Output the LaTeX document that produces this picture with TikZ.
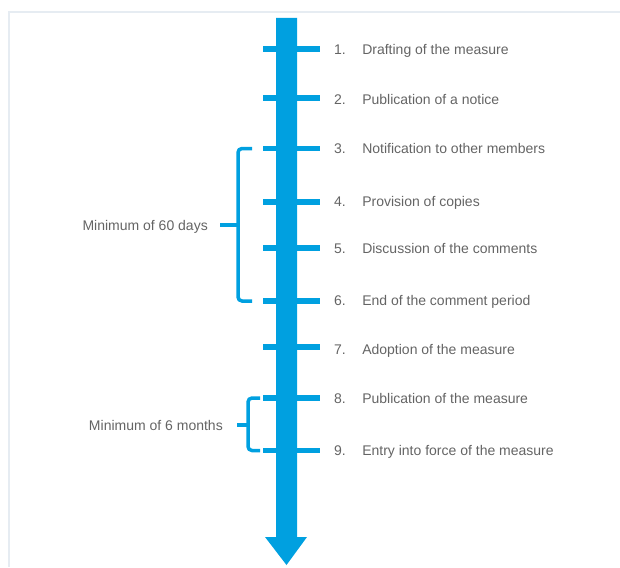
\documentclass[tikz,border=0pt]{standalone}
\usepackage{fontspec}
\setmainfont{Liberation Sans}
\usetikzlibrary{positioning}
\definecolor{lineblue}{RGB}{0,160,224}
\definecolor{labelgray}{RGB}{100,100,100}
\definecolor{framegray}{RGB}{230,236,242}

\begin{document}
\begin{tikzpicture}[x=1pt,y=-1pt,node distance=16pt,
            main node/.style={font=\fontsize{14}{17}\selectfont,text=labelgray,inner sep=0pt,text height=12pt,text depth=1.5pt},
            num node/.style={main node,anchor=west},
            tick/.style={draw=lineblue,line width=5.5pt},
            brace/.style={draw=lineblue,line width=3.5pt,rounded corners=4pt}]

        \useasboundingbox (0,0) rectangle (620,567);

        % Frame
        \draw[framegray,line width=1.5pt] (9,567) -- (9,12) -- (620,12);

        % Timeline arrow
        \fill[lineblue] (276,18) -- (297,18) -- (297,537) -- (307,537)
            -- (286.5,565) -- (265,537) -- (276,537) -- cycle;

        % Define tick points
        \coordinate (t1) at (263,49);
        \coordinate (t2) at (263,98);
        \coordinate (t3) at (263,148.5);
        \coordinate (t4) at (263,202);
        \coordinate (t5) at (263,248);
        \coordinate (t6) at (263,301);
        \coordinate (t7) at (263,347);
        \coordinate (t8) at (263,398);
        \coordinate (t9) at (263,450.5);

        % Draw ticks
        \foreach \t in {t1,t2,t3,t4,t5,t6,t7,t8,t9}
            \draw[tick] (\t) -- ++(57,0);

        % Define steps
        \node[num node] (n1) at (334,49) {1.};
        \node[main node] (s1) [right=of n1] {Drafting of the measure};
        \node[num node] (n2) at (334,99) {2.};
        \node[main node] (s2) [right=of n2] {Publication of a notice};
        \node[num node] (n3) at (334,148.5) {3.};
        \node[main node] (s3) [right=of n3] {Notification to other members};
        \node[num node] (n4) at (334,201) {4.};
        \node[main node] (s4) [right=of n4] {Provision of copies};
        \node[num node] (n5) at (334,248) {5.};
        \node[main node] (s5) [right=of n5] {Discussion of the comments};
        \node[num node] (n6) at (334,300) {6.};
        \node[main node] (s6) [right=of n6] {End of the comment period};
        \node[num node] (n7) at (334,349) {7.};
        \node[main node] (s7) [right=of n7] {Adoption of the measure};
        \node[num node] (n8) at (334,398.5) {8.};
        \node[main node] (s8) [right=of n8] {Publication of the measure};
        \node[num node] (n9) at (334,450) {9.};
        \node[main node] (s9) [right=of n9] {Entry into force of the measure};

        % Periods
        \node[main node,anchor=east] (m60) at (208,225) {Minimum of 60 days};
        \node[main node,anchor=east] (m6) at (223,425) {Minimum of 6 months};

        % Draw braces
        \draw[brace] ([xshift=-11pt]t3) -- ([xshift=-25pt]t3)
            -- ([xshift=-25pt]t6) -- ([xshift=-11pt]t6);
        \draw[brace] ([xshift=12pt]m60.east) -- ([xshift=30pt]m60.east);
        \draw[brace] ([xshift=-3pt]t8) -- ([xshift=-15pt]t8)
            -- ([xshift=-15pt]t9) -- ([xshift=-3pt]t9);
        \draw[brace] ([xshift=14pt]m6.east) -- ([xshift=25pt]m6.east);

        \end{tikzpicture}
\end{document}
